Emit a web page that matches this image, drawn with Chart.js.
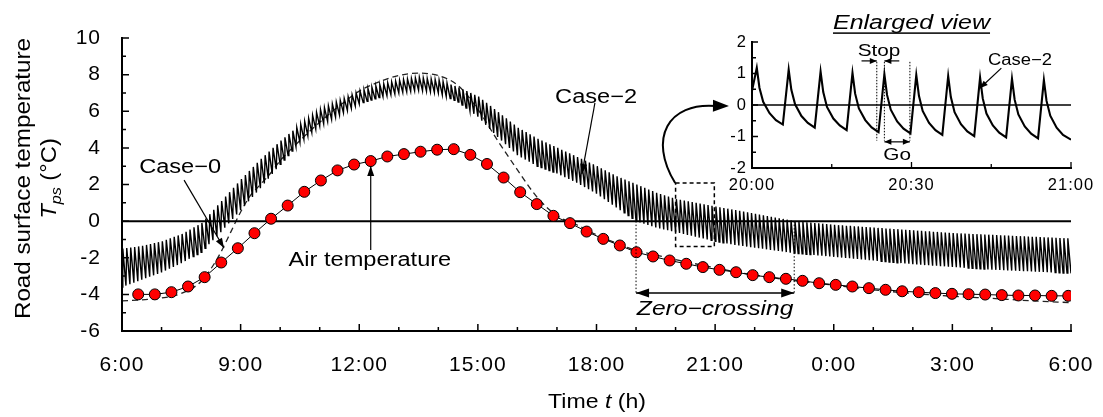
<!DOCTYPE html>
<html>
<head>
<meta charset="utf-8">
<script src="https://cdn.jsdelivr.net/npm/chart.js@4.4.1/dist/chart.umd.min.js"></script>
<style>
  html, body { margin: 0; padding: 0; background: #fff; }
  #wrap { position: relative; width: 1103px; height: 417px; }
  #main { position: absolute; left: 0; top: 0; }
  #inset { position: absolute; left: 700px; top: 0; }
</style>
</head>
<body>
<div id="wrap">
  <canvas id="main" width="1103" height="417"></canvas>
  <canvas id="inset" width="403" height="200"></canvas>
</div>
<script>
'use strict';

// ---- datos (x en horas desde las 6:00) ----
var xTickLabels = ['6:00', '9:00', '12:00', '15:00', '18:00', '21:00', '0:00', '3:00', '6:00'];
var insetTickLabels = ['20:00', '20:30', '21:00'];

// temperatura del aire (marcadores rojos)
var airStart = 0.41, airStep = 0.42;
var airTemp = [
  -4.0, -4.0, -3.88, -3.57, -3.06, -2.26, -1.48, -0.66, 0.13, 0.85,
  1.6, 2.22, 2.77, 3.09, 3.28, 3.53, 3.66, 3.79, 3.9, 3.93,
  3.62, 3.12, 2.38, 1.58, 0.93, 0.29, -0.11, -0.57, -0.97, -1.33,
  -1.7, -1.93, -2.15, -2.33, -2.51, -2.66, -2.79, -2.95, -3.06, -3.15,
  -3.26, -3.39, -3.48, -3.57, -3.66, -3.75, -3.83, -3.88, -3.93, -3.97,
  -3.99, -4.01, -4.04, -4.06, -4.06, -4.08, -4.08
];

// Case-0 (linea discontinua)
var case0Hours = [0, 0.5, 1, 1.5, 2, 2.25, 2.5, 2.75, 3, 3.25, 3.5, 3.75, 4, 4.5, 5, 5.5, 6, 6.5, 7, 7.5, 8,
  8.5, 9, 9.5, 10, 10.5, 11, 11.5, 12, 12.5, 13, 13.5, 14, 15, 16, 17, 18, 19, 20, 21, 22, 23, 24];
var case0Temp = [-4.35, -4.3, -4.2, -3.95, -3.3, -2.6, -1.7, -0.6, 0.5, 1.4, 2.0, 2.6, 3.3, 4.4, 5.4, 6.3, 7.1, 7.6, 7.95, 8.08, 7.95,
  7.4, 6.1, 4.4, 2.8, 1.3, 0.3, -0.2, -0.75, -1.2, -1.6, -1.85, -2.1, -2.55, -2.95, -3.25, -3.5, -3.75, -3.95, -4.1, -4.22, -4.35, -4.45];

// Case-2: un ciclo stop/go cada 6 min (pico al final del stop, valle al final del go)
var cycleHours = 0.1, stopHours = 0.02;
var case2Peak = [
  -1.5, -1.47, -1.44, -1.41, -1.38, -1.35, -1.3, -1.25, -1.2, -1.15,
  -1.1, -1.02, -0.94, -0.86, -0.78, -0.7, -0.58, -0.46, -0.34, -0.22,
  -0.1, 0.14, 0.38, 0.62, 0.86, 1.1, 1.34, 1.58, 1.82, 2.06,
  2.3, 2.52, 2.74, 2.96, 3.18, 3.4, 3.6, 3.8, 4.0, 4.2,
  4.4, 4.58, 4.76, 4.94, 5.12, 5.3, 5.46, 5.62, 5.78, 5.94,
  6.1, 6.2, 6.3, 6.4, 6.5, 6.6, 6.7, 6.8, 6.9, 7.0,
  7.1, 7.17, 7.24, 7.31, 7.38, 7.45, 7.5, 7.55, 7.6, 7.65,
  7.7, 7.73, 7.76, 7.79, 7.82, 7.85, 7.82, 7.79, 7.76, 7.73,
  7.7, 7.62, 7.54, 7.46, 7.38, 7.3, 7.2, 7.1, 7.0, 6.9,
  6.8, 6.63, 6.46, 6.29, 6.12, 5.95, 5.78, 5.61, 5.44, 5.27,
  5.1, 4.98, 4.86, 4.74, 4.62, 4.5, 4.4, 4.3, 4.2, 4.1,
  4.0, 3.9, 3.8, 3.7, 3.6, 3.5, 3.4, 3.3, 3.2, 3.1,
  3.0, 2.89, 2.78, 2.67, 2.56, 2.45, 2.36, 2.27, 2.18, 2.09,
  2.0, 1.91, 1.82, 1.73, 1.64, 1.55, 1.48, 1.41, 1.34, 1.27,
  1.2, 1.16, 1.12, 1.08, 1.04, 1.0, 0.96, 0.92, 0.88, 0.84,
  0.8, 0.76, 0.72, 0.68, 0.64, 0.6, 0.56, 0.52, 0.48, 0.44,
  0.4, 0.36, 0.32, 0.28, 0.24, 0.2, 0.16, 0.12, 0.08, 0.04,
  0.0, -0.02, -0.04, -0.06, -0.08, -0.1, -0.12, -0.14, -0.16, -0.18,
  -0.2, -0.22, -0.23, -0.25, -0.26, -0.28, -0.29, -0.31, -0.32, -0.34,
  -0.35, -0.37, -0.38, -0.4, -0.41, -0.43, -0.44, -0.46, -0.47, -0.49,
  -0.5, -0.52, -0.53, -0.55, -0.56, -0.58, -0.59, -0.61, -0.62, -0.64,
  -0.65, -0.66, -0.67, -0.68, -0.69, -0.7, -0.71, -0.72, -0.73, -0.74,
  -0.75, -0.76, -0.77, -0.78, -0.79, -0.8, -0.81, -0.82, -0.83, -0.84,
  -0.85, -0.86, -0.87, -0.88, -0.89, -0.9, -0.91, -0.92, -0.93, -0.94
];
var case2Trough = [
  -3.6, -3.52, -3.44, -3.36, -3.28, -3.2, -3.12, -3.04, -2.96, -2.88,
  -2.8, -2.7, -2.6, -2.5, -2.4, -2.3, -2.18, -2.06, -1.94, -1.82,
  -1.7, -1.48, -1.26, -1.04, -0.82, -0.6, -0.36, -0.12, 0.12, 0.36,
  0.6, 0.84, 1.08, 1.32, 1.56, 1.8, 2.06, 2.32, 2.58, 2.84,
  3.1, 3.34, 3.58, 3.82, 4.06, 4.3, 4.48, 4.66, 4.84, 5.02,
  5.2, 5.32, 5.44, 5.56, 5.68, 5.8, 5.92, 6.04, 6.16, 6.28,
  6.4, 6.47, 6.54, 6.61, 6.68, 6.75, 6.8, 6.85, 6.9, 6.95,
  7.0, 7.03, 7.06, 7.09, 7.12, 7.15, 7.12, 7.09, 7.06, 7.03,
  7.0, 6.9, 6.8, 6.7, 6.6, 6.5, 6.34, 6.18, 6.02, 5.86,
  5.7, 5.48, 5.26, 5.04, 4.82, 4.6, 4.4, 4.2, 4.0, 3.8,
  3.6, 3.48, 3.36, 3.24, 3.12, 3.0, 2.92, 2.84, 2.76, 2.68,
  2.6, 2.5, 2.4, 2.3, 2.2, 2.1, 1.98, 1.86, 1.74, 1.62,
  1.5, 1.35, 1.2, 1.05, 0.9, 0.75, 0.6, 0.45, 0.3, 0.15,
  0.0, -0.07, -0.14, -0.21, -0.28, -0.35, -0.4, -0.45, -0.5, -0.55,
  -0.6, -0.65, -0.7, -0.75, -0.8, -0.85, -0.9, -0.95, -1.0, -1.05,
  -1.1, -1.14, -1.18, -1.22, -1.26, -1.3, -1.33, -1.36, -1.39, -1.42,
  -1.45, -1.48, -1.51, -1.54, -1.57, -1.6, -1.63, -1.66, -1.69, -1.72,
  -1.75, -1.77, -1.79, -1.81, -1.83, -1.85, -1.87, -1.89, -1.91, -1.93,
  -1.95, -1.97, -1.99, -2.01, -2.03, -2.05, -2.07, -2.09, -2.11, -2.13,
  -2.15, -2.17, -2.19, -2.21, -2.23, -2.25, -2.27, -2.29, -2.31, -2.33,
  -2.35, -2.37, -2.38, -2.4, -2.41, -2.43, -2.44, -2.46, -2.47, -2.49,
  -2.5, -2.52, -2.53, -2.55, -2.56, -2.58, -2.59, -2.61, -2.62, -2.64,
  -2.65, -2.66, -2.67, -2.68, -2.69, -2.7, -2.71, -2.72, -2.73, -2.74,
  -2.75, -2.76, -2.77, -2.78, -2.79, -2.8, -2.81, -2.82, -2.83, -2.84,
  -2.85
];

// vista ampliada 20:00-21:00 (minutos desde las 20:00)
var insetMinutes = [0,
  0.9, 1.4, 2.1, 3.3, 4.5, 5.8,
  6.9, 7.4, 8.1, 9.3, 10.5, 11.8,
  12.9, 13.4, 14.1, 15.3, 16.5, 17.8,
  18.9, 19.4, 20.1, 21.3, 22.5, 23.8,
  24.9, 25.4, 26.1, 27.3, 28.5, 29.8,
  30.9, 31.4, 32.1, 33.3, 34.5, 35.8,
  36.9, 37.4, 38.1, 39.3, 40.5, 41.8,
  42.9, 43.4, 44.1, 45.3, 46.5, 47.8,
  48.9, 49.4, 50.1, 51.3, 52.5, 53.8,
  54.9, 55.4, 56.1, 57.3, 58.5, 60];
var insetTemp = [0.45,
  1.18, 0.55, 0.10, -0.26, -0.48, -0.62,
  1.12, 0.48, 0.02, -0.35, -0.57, -0.72,
  1.06, 0.41, -0.06, -0.43, -0.65, -0.80,
  1.02, 0.36, -0.11, -0.48, -0.71, -0.86,
  0.98, 0.32, -0.15, -0.52, -0.75, -0.90,
  0.95, 0.29, -0.19, -0.57, -0.80, -0.95,
  0.92, 0.25, -0.23, -0.61, -0.84, -0.99,
  0.87, 0.21, -0.27, -0.65, -0.88, -1.03,
  0.83, 0.17, -0.30, -0.68, -0.91, -1.06,
  0.79, 0.13, -0.34, -0.72, -0.95, -1.10];

// ---- utilidades ----
var FAMILY = '"Liberation Sans", Arial, sans-serif';
var SX = 1.18; // el texto de la figura original es algo ancho

function fuente(size, italic) {
  return (italic ? 'italic ' : '') + size + 'px ' + FAMILY;
}

function puntos(xs, ys) {
  return xs.map(function (x, i) { return { x: x, y: ys[i] }; });
}

// texto por tramos (normal / cursiva / subindice) centrado en (x, y)
function texto(ctx, runs, x, y, opt) {
  opt = opt || {};
  var sx = opt.sx || SX;
  ctx.save();
  ctx.letterSpacing = '0px';
  ctx.translate(x, y);
  if (opt.rot) ctx.rotate(opt.rot);
  ctx.scale(sx, 1);
  var total = 0, base = runs[0].size;
  runs.forEach(function (r) {
    ctx.font = fuente(r.size, r.italic);
    r.w = ctx.measureText(r.t).width;
    total += r.w;
  });
  var cx = -total / 2;
  ctx.fillStyle = '#000';
  ctx.textAlign = 'left';
  ctx.textBaseline = 'alphabetic';
  runs.forEach(function (r) {
    ctx.font = fuente(r.size, r.italic);
    ctx.fillText(r.t, cx, base * 0.36 + (r.dy || 0));
    cx += r.w;
  });
  if (opt.underline) {
    ctx.fillRect(-total / 2, base * 0.36 + opt.underline, total, 1.5);
  }
  ctx.restore();
}

function punta(ctx, x1, y1, x2, y2, largo, ancho) {
  var a = Math.atan2(y2 - y1, x2 - x1);
  ctx.save();
  ctx.translate(x2, y2);
  ctx.rotate(a);
  ctx.beginPath();
  ctx.moveTo(0, 0);
  ctx.lineTo(-largo, ancho / 2);
  ctx.lineTo(-largo, -ancho / 2);
  ctx.closePath();
  ctx.fill();
  ctx.restore();
}

function flecha(ctx, x1, y1, x2, y2, largo, ancho, doble) {
  ctx.beginPath();
  ctx.moveTo(x1, y1);
  ctx.lineTo(x2, y2);
  ctx.stroke();
  punta(ctx, x1, y1, x2, y2, largo, ancho);
  if (doble) punta(ctx, x2, y2, x1, y1, largo, ancho);
}

// ejes con marcas hacia dentro
var ejesPlugin = {
  id: 'ejes',
  beforeDraw: function (chart) {
    chart.ctx.letterSpacing = '1px';
  },
  beforeDatasetsDraw: function (chart) {
    chart.ctx.letterSpacing = '0px';
  },
  afterDatasetsDraw: function (chart, args, o) {
    var ctx = chart.ctx, a = chart.chartArea, xs = chart.scales.x, ys = chart.scales.y;
    var v, p, mayor;
    ctx.save();
    ctx.strokeStyle = '#000';
    ctx.lineWidth = o.tickWidth;
    ctx.beginPath();
    for (v = xs.min; v <= xs.max + 1e-6; v += o.xMinor) {
      p = xs.getPixelForValue(v);
      mayor = Math.abs(v / o.xMajor - Math.round(v / o.xMajor)) < 1e-6;
      ctx.moveTo(p, a.bottom);
      ctx.lineTo(p, a.bottom - (mayor ? o.majorLen : o.minorLen));
    }
    for (v = ys.min; v <= ys.max + 1e-6; v += o.yMinor) {
      p = ys.getPixelForValue(v);
      mayor = Math.abs(v / o.yMajor - Math.round(v / o.yMajor)) < 1e-6;
      ctx.moveTo(a.left, p);
      ctx.lineTo(a.left + (mayor ? o.majorLen : o.minorLen), p);
    }
    ctx.stroke();
    ctx.lineWidth = o.axisWidth;
    ctx.beginPath();
    ctx.moveTo(a.left, a.top - 1);
    ctx.lineTo(a.left, a.bottom);
    ctx.lineTo(a.right + 1, a.bottom);
    ctx.stroke();
    ctx.restore();
  }
};

// anotaciones del grafico principal
var notasMain = {
  id: 'notasMain',
  afterDraw: function (chart) {
    var ctx = chart.ctx, a = chart.chartArea, xs = chart.scales.x, ys = chart.scales.y;
    function X(v) { return xs.getPixelForValue(v); }
    function Y(v) { return ys.getPixelForValue(v); }
    ctx.save();
    ctx.strokeStyle = '#000';
    ctx.fillStyle = '#000';

    // titulos de ejes
    var cy = (a.top + a.bottom) / 2 - 6;
    texto(ctx, [{ t: 'Road surface temperature', size: 22 }], 22, cy, { rot: -Math.PI / 2, sx: 1.1 });
    texto(ctx, [
      { t: 'T', size: 22, italic: true },
      { t: 'ps', size: 15, italic: true, dy: 5 },
      { t: ' (°C)', size: 22 }
    ], 48, cy, { rot: -Math.PI / 2, sx: 1.08 });
    texto(ctx, [
      { t: 'Time ', size: 21 },
      { t: 't', size: 21, italic: true },
      { t: ' (h)', size: 21 }
    ], 597, 400, { sx: 1.1 });

    // Case-0
    texto(ctx, [{ t: 'Case\u22120', size: 20 }], X(1.47), Y(3.0));
    ctx.lineWidth = 1.2;
    flecha(ctx, X(1.57), Y(2.24), X(2.58), Y(-1.47), 10, 7);

    // Air temperature
    texto(ctx, [{ t: 'Air temperature', size: 20 }], X(6.27), Y(-2.07));
    flecha(ctx, X(6.29), Y(-1.58), X(6.29), Y(3.01), 10, 7);

    // Case-2
    texto(ctx, [{ t: 'Case\u22122', size: 20 }], X(11.99), Y(6.86));
    flecha(ctx, X(11.96), Y(6.45), X(11.63), Y(2.57), 10, 7);

    // recuadro 20:00-21:00
    ctx.lineWidth = 1.5;
    ctx.setLineDash([4, 3]);
    ctx.strokeRect(X(14.0), Y(2.08), X(14.98) - X(14.0), Y(-1.39) - Y(2.08));
    ctx.setLineDash([]);

    // flecha curva hacia la vista ampliada
    ctx.lineWidth = 2;
    ctx.beginPath();
    ctx.moveTo(X(13.99), Y(2.08));
    ctx.bezierCurveTo(X(13.3), Y(4.53), X(13.81), Y(6.5), X(15.02), Y(6.29));
    ctx.stroke();
    punta(ctx, X(14.9), Y(6.3), X(15.35), Y(6.29), 16, 12);

    // zero-crossing
    ctx.lineWidth = 1;
    ctx.setLineDash([1.5, 2]);
    ctx.beginPath();
    ctx.moveTo(X(13), Y(0)); ctx.lineTo(X(13), Y(-3.93));
    ctx.moveTo(X(17), Y(0)); ctx.lineTo(X(17), Y(-3.93));
    ctx.stroke();
    ctx.setLineDash([]);
    ctx.lineWidth = 1.5;
    flecha(ctx, X(13), Y(-3.93), X(17), Y(-3.93), 13, 9, true);
    texto(ctx, [{ t: 'Zero\u2212crossing', size: 20, italic: true }], X(15), Y(-4.75), { sx: 1.23 });

    ctx.restore();
  }
};

// anotaciones de la vista ampliada
var notasInset = {
  id: 'notasInset',
  afterDraw: function (chart) {
    var ctx = chart.ctx, xs = chart.scales.x, ys = chart.scales.y;
    function X(v) { return xs.getPixelForValue(v); }
    function Y(v) { return ys.getPixelForValue(v); }
    ctx.save();
    ctx.strokeStyle = '#000';
    ctx.fillStyle = '#000';

    texto(ctx, [{ t: 'Enlarged view', size: 20, italic: true }], X(30), Y(2.63), { sx: 1.25, underline: 3 });

    // stop / go
    texto(ctx, [{ t: 'Stop', size: 17 }], X(23.9), Y(1.75), { sx: 1.22 });
    ctx.lineWidth = 1.2;
    flecha(ctx, X(20.6), Y(1.4), X(23.47), Y(1.4), 7, 6);
    flecha(ctx, X(27.7), Y(1.4), X(24.9), Y(1.4), 7, 6);
    ctx.setLineDash([1.5, 1.5]);
    ctx.lineWidth = 1;
    ctx.beginPath();
    [23.47, 24.9, 29.7].forEach(function (m) {
      ctx.moveTo(X(m), Y(1.37));
      ctx.lineTo(X(m), Y(-1.13));
    });
    ctx.stroke();
    ctx.setLineDash([]);
    ctx.lineWidth = 1.2;
    flecha(ctx, X(24.9), Y(-1.17), X(29.7), Y(-1.17), 7, 6, true);
    texto(ctx, [{ t: 'Go', size: 17 }], X(27.3), Y(-1.56), { sx: 1.22 });

    // Case-2
    texto(ctx, [{ t: 'Case\u22122', size: 16 }], X(50.4), Y(1.46), { sx: 1.15 });
    flecha(ctx, X(46.9), Y(1.17), X(42.86), Y(0.53), 8, 6);

    ctx.restore();
  }
};

// ---- grafico principal ----
var airPts = airTemp.map(function (v, i) { return { x: airStart + i * airStep, y: v }; });
var case2Pts = [];
for (var k = 0; k < case2Peak.length; k++) {
  case2Pts.push({ x: k * cycleHours, y: case2Trough[k] });
  case2Pts.push({ x: k * cycleHours + stopHours, y: case2Peak[k] });
}
case2Pts.push({ x: case2Peak.length * cycleHours, y: case2Trough[case2Peak.length] });

var tickFont = { family: FAMILY, size: 21 };

new Chart(document.getElementById('main').getContext('2d'), {
  type: 'line',
  data: {
    datasets: [
      {
        label: 'Air temperature', data: airPts, order: 0,
        borderColor: '#000', borderWidth: 1, tension: 0,
        pointRadius: 5.5, pointBackgroundColor: '#ff0000', pointBorderColor: '#000', pointBorderWidth: 1
      },
      {
        label: 'zero', data: [{ x: 0, y: 0 }, { x: 24, y: 0 }], order: 1,
        borderColor: '#000', borderWidth: 2, pointRadius: 0
      },
      {
        label: 'Case-2', data: case2Pts, order: 2,
        borderColor: '#000', borderWidth: 1.4, pointRadius: 0, tension: 0
      },
      {
        label: 'Case-0', data: puntos(case0Hours, case0Temp), order: 3,
        borderColor: '#222', borderWidth: 1.3, borderDash: [6, 4], pointRadius: 0,
        cubicInterpolationMode: 'monotone'
      }
    ]
  },
  options: {
    responsive: false,
    animation: false,
    layout: { padding: { left: 0, top: 38, right: 32, bottom: 0 } },
    plugins: {
      legend: { display: false },
      tooltip: { enabled: false },
      ejes: { xMinor: 1, xMajor: 3, yMinor: 1, yMajor: 2, majorLen: 7, minorLen: 4, tickWidth: 1.5, axisWidth: 2 }
    },
    scales: {
      x: {
        type: 'linear', min: 0, max: 24,
        grid: { display: false, drawTicks: false }, border: { display: false },
        ticks: {
          stepSize: 3, autoSkip: false, maxRotation: 0, padding: 22, color: '#000', font: tickFont,
          callback: function (v) { return xTickLabels[Math.round(v / 3)]; }
        },
        afterFit: function (s) { s.height = 86; s.paddingLeft = 0; s.paddingRight = 0; }
      },
      y: {
        min: -6, max: 10,
        grid: { display: false, drawTicks: false }, border: { display: false },
        ticks: { stepSize: 2, padding: 21, color: '#000', font: tickFont },
        afterFit: function (s) { s.width = 122; s.paddingTop = 0; s.paddingBottom = 0; }
      }
    }
  },
  plugins: [ejesPlugin, notasMain]
});

// ---- vista ampliada ----
var insetFont = { family: FAMILY, size: 16.5 };

new Chart(document.getElementById('inset').getContext('2d'), {
  type: 'line',
  data: {
    datasets: [
      {
        label: 'Case-2', data: puntos(insetMinutes, insetTemp), order: 0,
        borderColor: '#000', borderWidth: 2.1, pointRadius: 0, tension: 0
      },
      {
        label: 'zero', data: [{ x: 0, y: 0 }, { x: 60, y: 0 }], order: 1,
        borderColor: '#000', borderWidth: 1.5, pointRadius: 0
      }
    ]
  },
  options: {
    responsive: false,
    animation: false,
    layout: { padding: { left: 0, top: 42, right: 32, bottom: 0 } },
    plugins: {
      legend: { display: false },
      tooltip: { enabled: false },
      ejes: { xMinor: 15, xMajor: 30, yMinor: 0.5, yMajor: 1, majorLen: 6, minorLen: 4, tickWidth: 1.3, axisWidth: 2 }
    },
    scales: {
      x: {
        type: 'linear', min: 0, max: 60,
        grid: { display: false, drawTicks: false }, border: { display: false },
        ticks: {
          stepSize: 30, autoSkip: false, maxRotation: 0, padding: 8, color: '#000', font: insetFont,
          callback: function (v) { return insetTickLabels[Math.round(v / 30)]; }
        },
        afterFit: function (s) { s.height = 32; s.paddingLeft = 0; s.paddingRight = 0; }
      },
      y: {
        min: -2, max: 2,
        grid: { display: false, drawTicks: false }, border: { display: false },
        ticks: { stepSize: 1, padding: 5, color: '#000', font: insetFont },
        afterFit: function (s) { s.width = 52; s.paddingTop = 0; s.paddingBottom = 0; }
      }
    }
  },
  plugins: [ejesPlugin, notasInset]
});
</script>
</body>
</html>
